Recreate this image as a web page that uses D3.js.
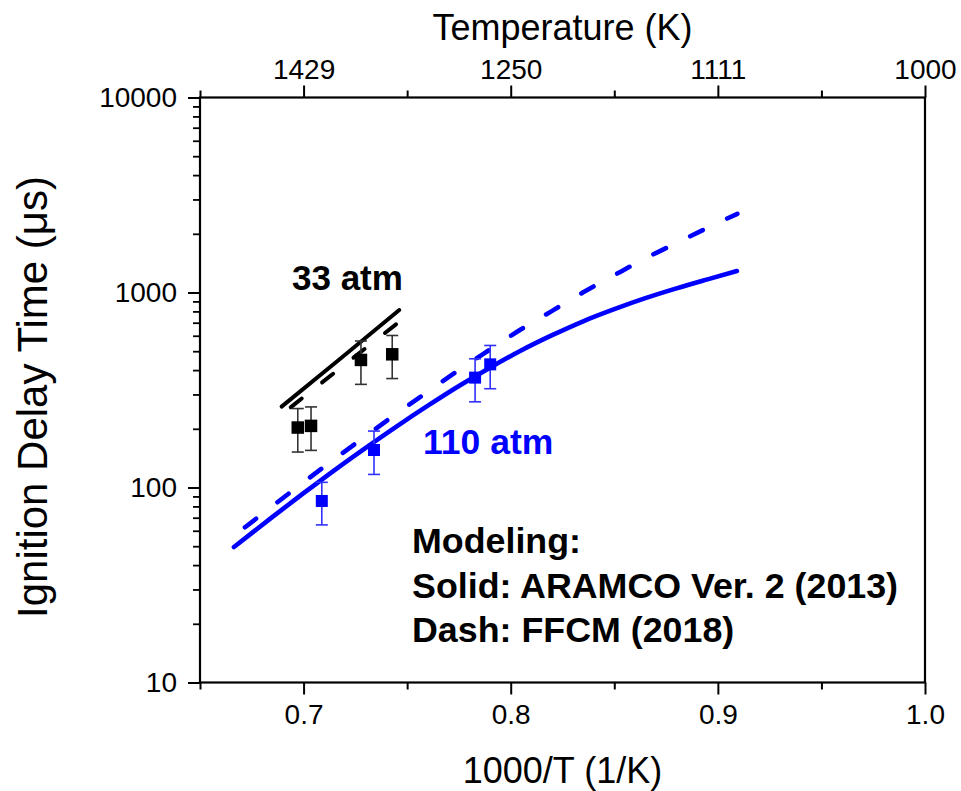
<!DOCTYPE html>
<html>
<head>
<meta charset="utf-8">
<script src="https://cdn.jsdelivr.net/npm/d3@7"></script>
<style>
  html, body { margin: 0; padding: 0; background: #fff; }
  svg { display: block; }
  text { font-family: "Liberation Sans", Arial, sans-serif; }
</style>
</head>
<body>
<svg id="chart" width="961" height="791"></svg>
<script>
// ---------------- DATA ----------------
// Experimental points, 33 atm (black)
const exp33X = [0.6972, 0.7036, 0.7277, 0.7428];
const exp33Y = [203, 207, 451, 482];
const exp33Err = [51, 52, 113, 120];

// Experimental points, 110 atm (blue)
const exp110X = [0.7088, 0.7340, 0.7828, 0.7901];
const exp110Y = [85.3, 155.7, 366, 428];
const exp110Err = [21, 39, 91, 107];

// Model 33 atm: solid (ARAMCO 2.0), dash (FFCM)
const m33SolidX = [0.6894, 0.7180, 0.7462];
const m33SolidY = [260, 460, 813];
const m33DashX = [0.6938, 0.7200, 0.7462];
const m33DashY = [258, 428, 708];

// Model 110 atm: solid (ARAMCO 2.0)
const m110SolidX = [0.6664, 0.685, 0.700, 0.715, 0.730, 0.745, 0.760, 0.775, 0.790, 0.805, 0.820, 0.835, 0.850, 0.865, 0.880, 0.895, 0.9092];
const m110SolidY = [49.5, 70.7, 93.5, 122.9, 159.8, 206, 262.8, 331.7, 411.7, 504, 604, 712, 821, 935, 1050, 1168, 1288];
// Model 110 atm: dash (FFCM)
const m110DashX = [0.6717, 0.685, 0.700, 0.715, 0.730, 0.745, 0.760, 0.775, 0.790, 0.805, 0.820, 0.835, 0.850, 0.865, 0.880, 0.895, 0.9094];
const m110DashY = [62.5, 80.4, 106.3, 140.2, 183.5, 239.9, 310, 400.4, 510, 647.4, 805, 1002, 1227, 1496, 1793, 2146, 2533];

// Axes
const xMajorTicks = [0.7, 0.8, 0.9, 1.0];
const xMinorTicks = [0.65, 0.75, 0.85, 0.95];
const xTickLabels = ["0.7", "0.8", "0.9", "1.0"];
const topTickLabels = ["1429", "1250", "1111", "1000"];
const yMajorTicks = [10, 100, 1000, 10000];
const yTickLabels = ["10", "100", "1000", "10000"];

const xTitle = "1000/T (1/K)";
const topTitle = "Temperature (K)";
const yTitle = "Ignition Delay Time (\u03bcs)";
const label33 = "33 atm";
const label110 = "110 atm";
const noteLines = ["Modeling:", "Solid: ARAMCO Ver. 2 (2013)", "Dash: FFCM (2018)"];

// ---------------- LAYOUT ----------------
const L = 200, R = 925, T = 97.5, B = 682.5;
const BLUE = "#0000ff";
const svg = d3.select("#chart");

const x = d3.scaleLinear().domain([0.65, 1.0]).range([L, R]);
const y = d3.scaleLog().domain([10, 10000]).range([B, T]);

// minor y ticks 2..9 per decade
const yMinorTicks = [];
for (let d = 10; d < 10000; d *= 10) for (let k = 2; k <= 9; k++) yMinorTicks.push(d * k);

function styleAxis(g, w) {
  g.select(".domain").remove();
  g.selectAll(".tick line").attr("stroke", "#000").attr("stroke-width", w);
  g.selectAll(".tick text").attr("fill", "#000").style("font-size", "28px")
    .style("font-family", '"Liberation Sans", Arial, sans-serif');
}

// bottom axis
svg.append("g").attr("transform", `translate(0,${B})`)
  .call(d3.axisBottom(x).tickValues(xMajorTicks).tickSize(12).tickPadding(10)
    .tickFormat((d, i) => xTickLabels[i]))
  .call(g => styleAxis(g, 2));
svg.append("g").attr("transform", `translate(0,${B})`)
  .call(d3.axisBottom(x).tickValues(xMinorTicks).tickSize(7).tickFormat(""))
  .call(g => styleAxis(g, 2));

// top axis
svg.append("g").attr("transform", `translate(0,${T})`)
  .call(d3.axisTop(x).tickValues(xMajorTicks).tickSize(12).tickPadding(7)
    .tickFormat((d, i) => topTickLabels[i]))
  .call(g => styleAxis(g, 2));
svg.append("g").attr("transform", `translate(0,${T})`)
  .call(d3.axisTop(x).tickValues(xMinorTicks).tickSize(7).tickFormat(""))
  .call(g => styleAxis(g, 2));

// left axis
svg.append("g").attr("transform", `translate(${L},0)`)
  .call(d3.axisLeft(y).tickValues(yMajorTicks).tickSize(12).tickPadding(11)
    .tickFormat((d, i) => yTickLabels[i]))
  .call(g => styleAxis(g, 2));
svg.append("g").attr("transform", `translate(${L},0)`)
  .call(d3.axisLeft(y).tickValues(yMinorTicks).tickSize(7).tickFormat(""))
  .call(g => styleAxis(g, 1.8));

// frame
svg.append("rect").attr("x", L).attr("y", T).attr("width", R - L).attr("height", B - T)
  .attr("fill", "none").attr("stroke", "#000").attr("stroke-width", 2.2);

// titles
svg.append("text").attr("x", (L + R) / 2).attr("y", 783).attr("text-anchor", "middle")
  .style("font-size", "36px").text(xTitle);
svg.append("text").attr("x", (L + R) / 2).attr("y", 40).attr("text-anchor", "middle")
  .style("font-size", "36px").text(topTitle);
svg.append("text").attr("transform", "translate(47,397) rotate(-90)").attr("text-anchor", "middle")
  .style("font-size", "42px").text(yTitle);

// ---------------- MARKS ----------------
const plot = svg.append("g");
const line = d3.line().x(d => x(d[0])).y(d => y(d[1])).curve(d3.curveMonotoneX);
const zip = (a, b) => a.map((v, i) => [v, b[i]]);

function drawLine(xs, ys, color, width, dash) {
  plot.append("path").datum(zip(xs, ys)).attr("d", line)
    .attr("fill", "none").attr("stroke", color).attr("stroke-width", width)
    .attr("stroke-linecap", "round").attr("stroke-linejoin", "round")
    .attr("stroke-dasharray", dash || null);
}
drawLine(m110SolidX, m110SolidY, BLUE, 4.6);
drawLine(m110DashX, m110DashY, BLUE, 4.6, "14,27");
drawLine(m33SolidX, m33SolidY, "#000", 4);
drawLine(m33DashX, m33DashY, "#000", 4, "14,26");

function drawPoints(xs, ys, errs, color, barColor, size) {
  const g = plot.append("g");
  xs.forEach((xv, i) => {
    const cx = x(xv), lo = y(ys[i] - errs[i]), hi = y(ys[i] + errs[i]);
    g.append("line").attr("x1", cx).attr("x2", cx).attr("y1", lo).attr("y2", hi)
      .attr("stroke", barColor).attr("stroke-width", 1.6);
    [lo, hi].forEach(yy => g.append("line").attr("x1", cx - 6).attr("x2", cx + 6)
      .attr("y1", yy).attr("y2", yy).attr("stroke", barColor).attr("stroke-width", 1.6));
    g.append("rect").attr("x", cx - size / 2).attr("y", y(ys[i]) - size / 2)
      .attr("width", size).attr("height", size).attr("fill", color);
  });
}
drawPoints(exp33X, exp33Y, exp33Err, "#000", "#333", 12.5);
drawPoints(exp110X, exp110Y, exp110Err, BLUE, "#3030ff", 12);

// annotations
svg.append("text").attr("x", 292).attr("y", 290).style("font-size", "35px")
  .style("font-weight", "bold").attr("fill", "#000").text(label33);
svg.append("text").attr("x", 423).attr("y", 454).style("font-size", "35.5px")
  .style("font-weight", "bold").attr("fill", BLUE).text(label110);
svg.append("g").selectAll("text").data(noteLines).join("text")
  .attr("x", 412).attr("y", (d, i) => 553 + i * 44.5)
  .style("font-size", "35.8px").style("font-weight", "bold").attr("fill", "#000")
  .text(d => d);
</script>
</body>
</html>
